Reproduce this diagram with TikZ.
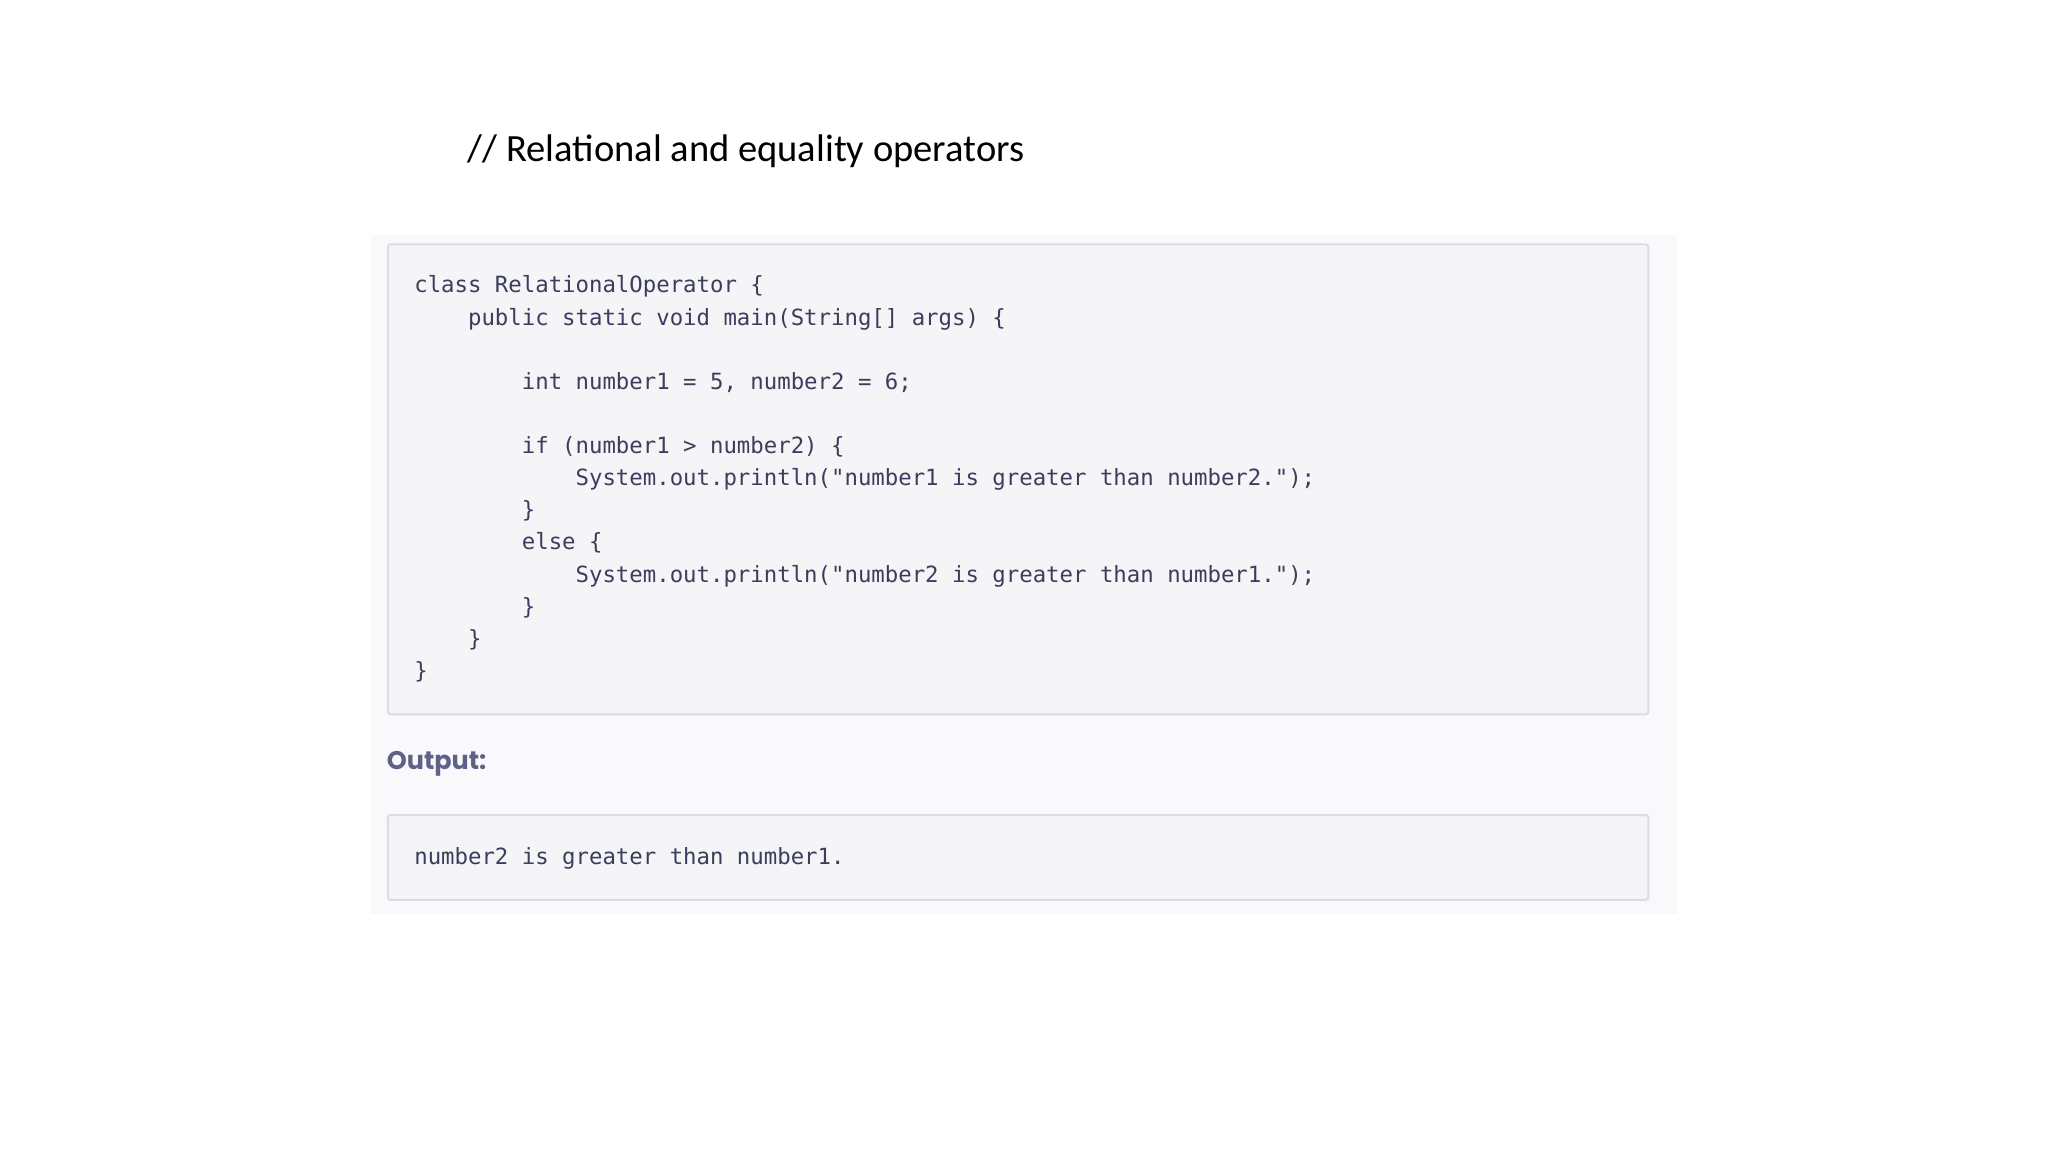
\documentclass[tikz,border=0pt]{standalone}
\usepackage{fontspec}
\setmainfont{Carlito}
\setmonofont{DejaVu Sans Mono}
\newfontfamily\labelfont{Poppins}
\usetikzlibrary{positioning}
\definecolor{codeink}{HTML}{3A3E5C}
\definecolor{labelink}{HTML}{5E6287}
\definecolor{panelbg}{HTML}{F9F9FB}
\definecolor{boxbg}{HTML}{F5F5F7}
\definecolor{boxrule}{HTML}{DCDCE0}
\newcommand{\ind}{\hspace*{2.408em}}
\begin{document}
\begin{tikzpicture}[x=1pt,y=-1pt,
    codebox/.style={draw=boxrule,line width=1.5pt,fill=boxbg,rounded corners=2pt},
    codetext/.style={inner sep=0pt,align=left,text=codeink,
      font=\ttfamily\fontsize{17.1}{24.6}\selectfont}]
  \useasboundingbox (0,0) rectangle (1568,882);
  \fill[white] (0,0) rectangle (1568,882);
  \node[inner sep=0pt,anchor=west,font=\fontsize{29.5}{34}\selectfont] (title) at (358,116) {// Relational and equality operators};
  % panel and boxes
  \fill[panelbg] (284,180) rectangle (1284,700);
  \draw[codebox] (297,187) rectangle (1262,547);
  \draw[codebox] (297,624) rectangle (1262,689);
  \node[codetext,anchor=north west] (code) at (317,211) {class RelationalOperator \{\\
\ind public static void main(String[] args) \{\\
\mbox{}\\
\ind\ind int number1 = 5, number2 = 6;\\
\mbox{}\\
\ind\ind if (number1 > number2) \{\\
\ind\ind\ind System.out.println("number1 is greater than number2.");\\
\ind\ind \}\\
\ind\ind else \{\\
\ind\ind\ind System.out.println("number2 is greater than number1.");\\
\ind\ind \}\\
\ind \}\\
\}};
  \node[inner sep=0pt,anchor=west,text=labelink,font=\labelfont\bfseries\fontsize{19.5}{24}\selectfont] (outlabel) at (296,585) {Output:};
  \node[codetext,anchor=base west] (result) at (317,662) {number2 is greater than number1.};
\end{tikzpicture}
\end{document}
